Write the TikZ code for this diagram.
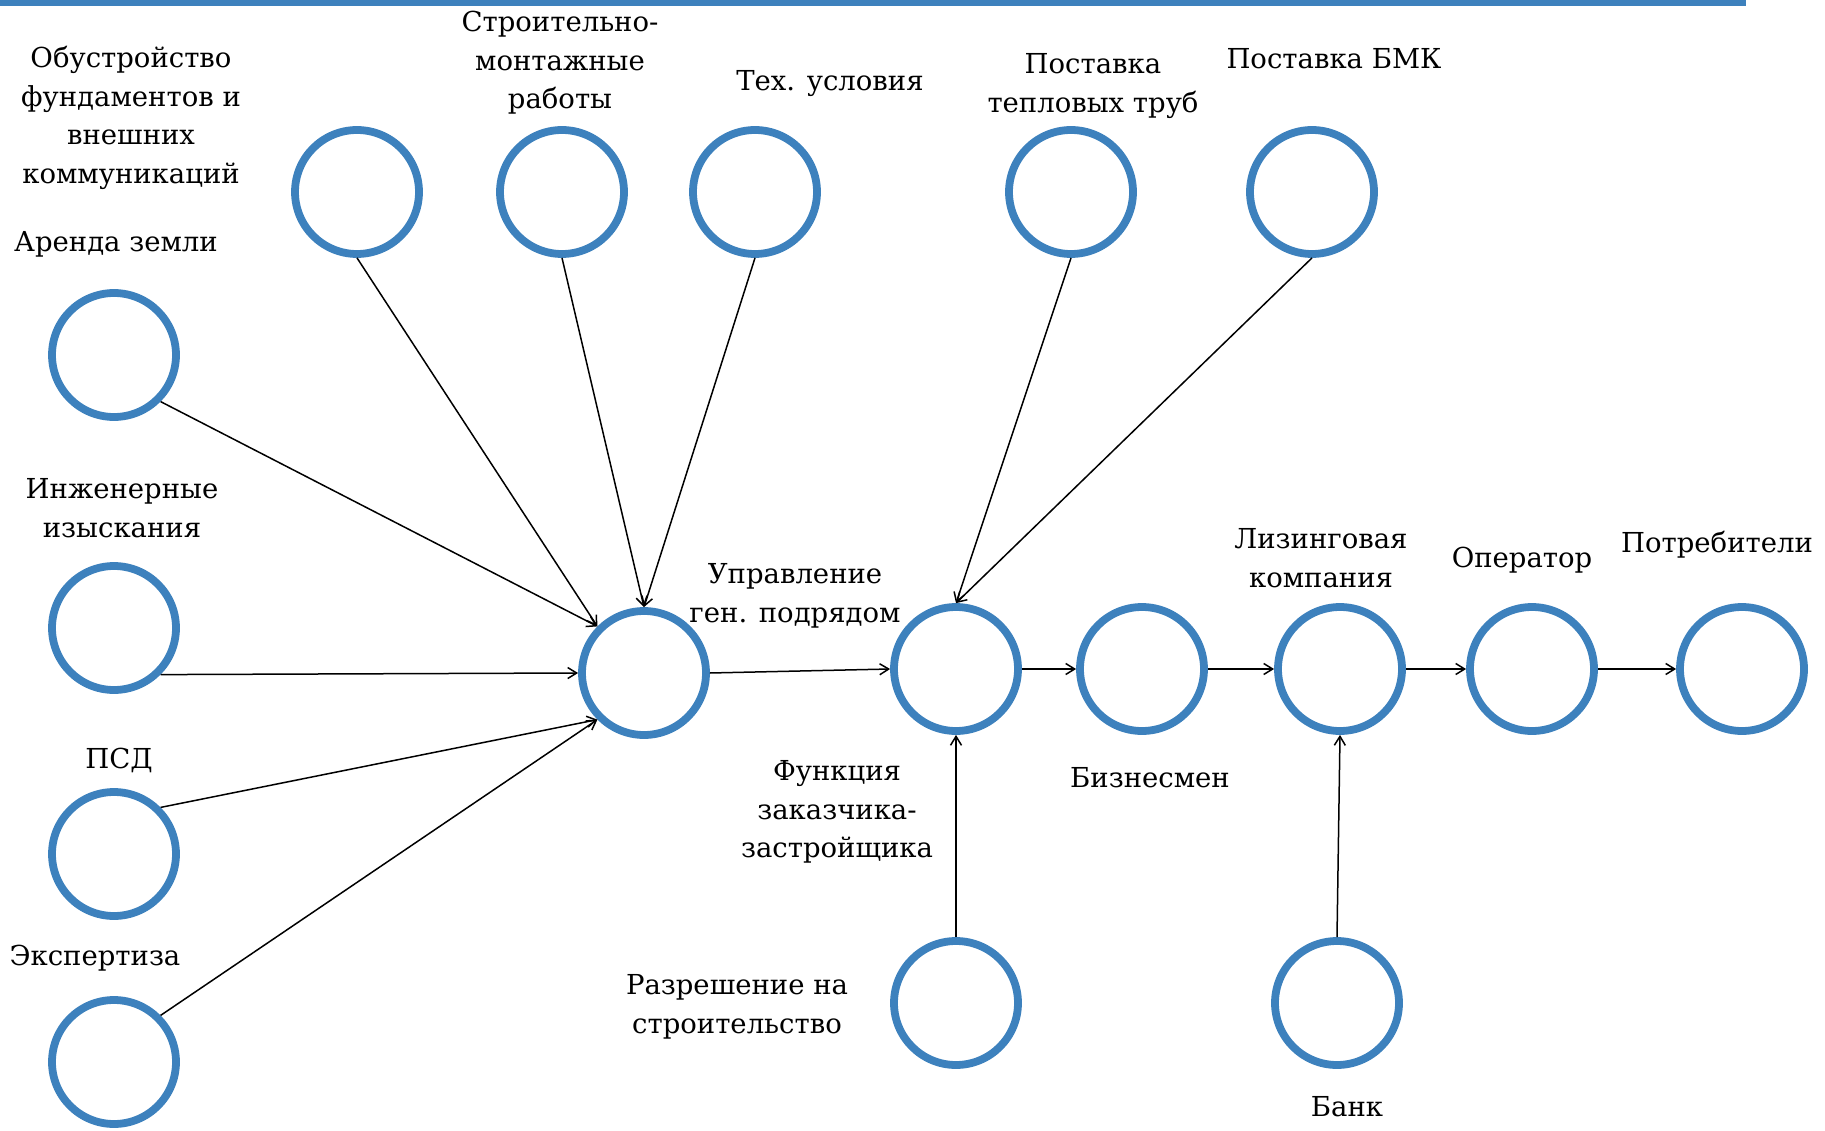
\documentclass[tikz,border=0pt]{standalone}
\usepackage{fontspec}
\setmainfont{DejaVu Serif}
\usetikzlibrary{arrows.meta}
\definecolor{ringblue}{HTML}{3D81BD}
\begin{document}
\begin{tikzpicture}[x=1pt,y=-1pt,
  ring/.style={circle,draw=ringblue,line width=7.8pt,minimum size=124pt,inner sep=0pt},
  lbl/.style={align=center,inner sep=0pt,font=\fontsize{27.5}{38.5}\selectfont},
  arr/.style={line width=1.5pt,-{Straight Barb[length=9pt,width=11pt]}}]
\useasboundingbox (0,0) rectangle (1825,1131);
\fill[ringblue] (0,0) rectangle (1746,6);
% circles
\node[ring] (obu) at (357,192) {};
\node[ring] (str) at (562,192) {};
\node[ring] (teh) at (755,192) {};
\node[ring] (pt) at (1071,192) {};
\node[ring] (bmk) at (1312,192) {};
\node[ring] (ar) at (114,355) {};
\node[ring] (inz) at (114,628) {};
\node[ring] (psd) at (114,854) {};
\node[ring] (eks) at (114,1062) {};
\node[ring] (upr) at (644,673) {};
\node[ring] (fz) at (956,669) {};
\node[ring] (biz) at (1142,669) {};
\node[ring] (liz) at (1340,669) {};
\node[ring] (op) at (1532,669) {};
\node[ring] (pot) at (1742,669) {};
\node[ring] (raz) at (956,1003) {};
\node[ring] (bank) at (1337,1003) {};
% labels
\node[lbl] (tobu) at (131,118) {Обустройство\\фундаментов и\\внешних\\коммуникаций};
\node[lbl] (tstr) at (560,63) {Строительно-\\монтажные\\работы};
\node[lbl] (tteh) at (830,84) {Тех. условия};
\node[lbl] (tpt) at (1093,86) {Поставка\\тепловых труб};
\node[lbl] (tbmk) at (1334,59) {Поставка БМК};
\node[lbl] (tar) at (116,244) {Аренда земли};
\node[lbl] (tinz) at (122,508) {Инженерные\\изыскания};
\node[lbl] (tpsd) at (119,760) {ПСД};
\node[lbl] (teks) at (95,958) {Экспертиза};
\node[lbl] (tupr) at (795,596) {Управление\\ген. подрядом};
\node[lbl] (tfz) at (837,812) {Функция\\заказчика-\\застройщика};
\node[lbl] (tbiz) at (1150,778) {Бизнесмен};
\node[lbl] (tliz) at (1321,558) {Лизинговая\\компания};
\node[lbl] (top) at (1522,560) {Оператор};
\node[lbl] (tpot) at (1717,545) {Потребители};
\node[lbl] (traz) at (737,1007) {Разрешение на\\строительство};
\node[lbl] (tbank) at (1347,1107) {Банк};
% connectors
\draw[arr] (ar.south east) -- (upr.north west);
\draw[arr] (inz.south east) -- (upr.west);
\draw[arr] (psd.north east) -- (upr.south west);
\draw[arr] (eks.north east) -- (upr.south west);
\draw[arr] (obu.south) -- (upr.north west);
\draw[arr] (str.south) -- (upr.north);
\draw[arr] (teh.south) -- (upr.north);
\draw[arr] (upr.east) -- (fz.west);
\draw[arr] (pt.south) -- (fz.north);
\draw[arr] (bmk.south) -- (fz.north);
\draw[arr] (fz.east) -- (biz.west);
\draw[arr] (biz.east) -- (liz.west);
\draw[arr] (liz.east) -- (op.west);
\draw[arr] (op.east) -- (pot.west);
\draw[arr] (raz.north) -- (fz.south);
\draw[arr] (bank.north) -- (liz.south);
\end{tikzpicture}
\end{document}
